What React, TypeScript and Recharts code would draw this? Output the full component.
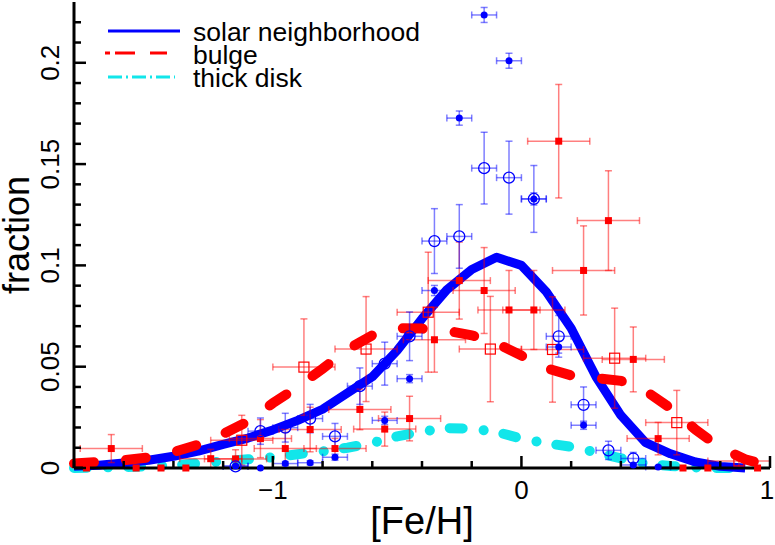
import React from 'react';
import { ComposedChart, Line, Scatter, XAxis, YAxis, ErrorBar, Legend } from 'recharts';

const FONT = '"Liberation Sans", Arial, Helvetica, sans-serif';

// model curves, sampled on a 0.1 dex grid
const fehGrid = [-1.8, -1.7, -1.6, -1.5, -1.4, -1.3, -1.2, -1.1, -1.0, -0.9, -0.8, -0.7, -0.6, -0.5, -0.4,
  -0.3, -0.2, -0.1, 0.0, 0.1, 0.2, 0.3, 0.4, 0.5, 0.6, 0.7, 0.8, 0.9, 1.0];
const solarModel = [0.0008, 0.0014, 0.0025, 0.0038, 0.0058, 0.0083, 0.0117, 0.0148, 0.0188, 0.0235, 0.029,
  0.037, 0.045, 0.058, 0.0737, 0.088, 0.098, 0.104, 0.1, 0.087, 0.069, 0.045, 0.026, 0.0125, 0.007, 0.003,
  0.0008, 0, null];
const bulgeModel = [0.0022, 0.003, 0.0038, 0.0052, 0.0078, 0.0116, 0.0168, 0.023, 0.032, 0.04, 0.049, 0.0585,
  0.0655, 0.069, 0.0688, 0.0678, 0.0655, 0.0615, 0.0555, 0.0493, 0.0457, 0.0444, 0.043, 0.038, 0.0295, 0.019,
  0.01, 0.0043, 0.001];
const thickDiskModel = [0, 0.0002, 0.0005, 0.0008, 0.0013, 0.0023, 0.0033, 0.0043, 0.0053, 0.0068, 0.0082,
  0.01, 0.0124, 0.0156, 0.018, 0.0197, 0.0194, 0.0178, 0.0145, 0.0122, 0.0105, 0.0077, 0.0048, 0.0022, 0.001,
  0.0003, 0, 0, null];

// observed bins: [Fe/H], fraction, [Fe/H] half width, fraction error
const solarFilled = [
  [-0.15, 0.2236, 0.05, 0.0037], [-0.05, 0.201, 0.05, 0.0037], [-0.25, 0.1727, 0.05, 0.0035],
  [0.05, 0.1328, 0.05, 0.003], [-0.35, 0.0876, 0.05, 0.0025], [-0.45, 0.0441, 0.05, 0.002],
  [-0.55, 0.0235, 0.05, 0.002], [-0.75, 0.0053, 0.05, 0.0015], [-0.85, 0.0026, 0.05, 0.001],
  [-0.95, 0.0022, 0.05, 0.001], [-1.15, 0.001, 0.05, 0.0005], [0.15, 0.0597, 0.05, 0.003],
  [0.25, 0.0211, 0.05, 0.002], [0.45, 0.0015, 0.05, 0.001], [0.55, 0.0005, 0.05, 0.0005],
];
const solarOpen = [
  [-0.15, 0.148, 0.05, 0.0177], [-0.05, 0.1433, 0.05, 0.018], [0.05, 0.1328, 0.05, 0.0165],
  [-0.35, 0.112, 0.05, 0.016], [-0.25, 0.1143, 0.05, 0.0157], [-0.45, 0.065, 0.05, 0.012],
  [-0.55, 0.0515, 0.05, 0.0106], [-0.65, 0.0404, 0.05, 0.009], [-0.75, 0.0156, 0.05, 0.0064],
  [-0.85, 0.0244, 0.05, 0.007], [-0.95, 0.0199, 0.05, 0.0071], [-1.05, 0.0182, 0.05, 0.0065],
  [-1.15, 0.0008, 0.05, 0.0008], [0.15, 0.065, 0.05, 0.0103], [0.25, 0.0312, 0.05, 0.0088],
  [0.35, 0.0087, 0.05, 0.0045], [0.45, 0.0047, 0.05, 0.003],
];
const bulgeFilled = [
  [0.15, 0.1613, 0.125, 0.028], [0.35, 0.1221, 0.125, 0.0246], [0.25, 0.0975, 0.125, 0.022],
  [-0.25, 0.0925, 0.125, 0.019], [-0.15, 0.0876, 0.125, 0.0212], [-0.05, 0.078, 0.125, 0.0195],
  [0.05, 0.078, 0.125, 0.0195], [-0.35, 0.0633, 0.125, 0.016], [0.45, 0.0536, 0.125, 0.016],
  [0.55, 0.0145, 0.125, 0.008], [-0.65, 0.0289, 0.125, 0.01], [-0.45, 0.0244, 0.125, 0.011],
  [-0.55, 0.0192, 0.125, 0.0084], [-0.85, 0.019, 0.125, 0.011], [-0.75, 0.0096, 0.125, 0.005],
  [-0.95, 0.0096, 0.125, 0.008], [-1.05, 0.0145, 0.125, 0.0094], [-1.15, 0.0045, 0.125, 0.0045],
  [-1.25, 0.0046, 0.125, 0.0046], [-1.65, 0.0096, 0.125, 0.0069],
];
const bulgeOpen = [
  [-0.375, 0.0769, 0.125, 0.0296], [-0.125, 0.0587, 0.125, 0.026], [-0.625, 0.0587, 0.125, 0.0259],
  [-0.875, 0.0498, 0.125, 0.0238], [0.125, 0.0585, 0.125, 0.026], [0.375, 0.0542, 0.125, 0.0247],
  [0.625, 0.0224, 0.125, 0.0159], [0.875, 0.0035, 0.125, 0.0035], [-1.125, 0.0137, 0.125, 0.0123],
];
// empty bins sitting on the axis
const solarEmptyBins = [-1.05];
const bulgeEmptyBins = [-1.75, -1.55, -1.45, -1.35, 0.65, 0.75, 0.95];

const xTicks = [-1.8, -1.6, -1.4, -1.2, -1.0, -0.8, -0.6, -0.4, -0.2, 0, 0.2, 0.4, 0.6, 0.8, 1.0];
const yTicks = [0, 0.01, 0.02, 0.03, 0.04, 0.05, 0.06, 0.07, 0.08, 0.09, 0.1, 0.11, 0.12, 0.13, 0.14, 0.15,
  0.16, 0.17, 0.18, 0.19, 0.2, 0.21, 0.22];

const curve = (vals: (number | null)[]) => fehGrid.map((x, i) => ({ x, y: vals[i] }));
const bins = (rows: number[][]) => rows.map(([x, y, ex, ey]) => ({ x, y, ex, ey }));
const empty = (xs: number[]) => xs.map((x) => ({ x, y: 0 }));

const isMajor = (v: number, step: number) => Math.abs(v / step - Math.round(v / step)) < 1e-6;
const fmtX = (v: number) => (v < 0 ? `\u2212${Math.abs(v)}` : `${v}`);
const fmtY = (v: number) => String(Number(v.toFixed(2)));

const TICK = { stroke: '#000', strokeWidth: 2.5 };
const AXIS = { stroke: '#000', strokeWidth: 3 };

const BottomTick = ({ x, y, payload }: any) => {
  const major = isMajor(payload.value, 1);
  // the last label sits on the frame edge, keep it inside the page
  const tx = payload.value >= 1 ? x - 3 : x;
  return (
    <g>
      <line x1={x} x2={x} y1={y} y2={y - (major ? 12 : 7)} {...TICK} />
      {major && (
        <text x={tx} y={y + 31} textAnchor="middle" fontSize={26} fontFamily={FONT} fill="#000">
          {fmtX(payload.value)}
        </text>
      )}
    </g>
  );
};

const TopTick = ({ x, y, payload }: any) => (
  <line x1={x} x2={x} y1={y} y2={y + (isMajor(payload.value, 1) ? 12 : 7)} {...TICK} />
);

const LeftTick = ({ x, y, payload }: any) => {
  const major = isMajor(payload.value, 0.05);
  const tx = x - 15;
  return (
    <g>
      <line x1={x} x2={x + (major ? 12 : 7)} y1={y} y2={y} {...TICK} />
      {major && (
        <text x={tx} y={y} transform={`rotate(-90 ${tx} ${y})`} textAnchor="middle" fontSize={26}
          fontFamily={FONT} fill="#000">
          {fmtY(payload.value)}
        </text>
      )}
    </g>
  );
};

const RightTick = ({ x, y, payload }: any) => (
  <line x1={x} x2={x - (isMajor(payload.value, 0.05) ? 12 : 7)} y1={y} y2={y} {...TICK} />
);

const FilledDot = ({ cx, cy }: any) => <circle cx={cx} cy={cy} r={3.5} fill="#0000ff" />;
const OpenDot = ({ cx, cy }: any) => (
  <circle cx={cx} cy={cy} r={5.5} fill="none" stroke="#0000ff" strokeWidth={1.3} />
);
const FilledSquare = ({ cx, cy }: any) => <rect x={cx - 3.5} y={cy - 3.5} width={7} height={7} fill="#ff0000" />;
const OpenSquare = ({ cx, cy }: any) => (
  <rect x={cx - 5} y={cy - 5} width={10} height={10} fill="none" stroke="#ff0000" strokeWidth={1.2} />
);

const BLUE_ERR = 'rgba(0,0,255,0.5)';
const RED_ERR = 'rgba(255,0,0,0.5)';
const CYAN = '#12e6ea';

const LegendBox = () => (
  <svg width={340} height={85} style={{ display: 'block' }}>
    <line x1={13} x2={85} y1={16} y2={16} stroke="#0000ff" strokeWidth={3} />
    <text x={98} y={26} fontSize={26.5} fontFamily={FONT} fill="#000">solar neighborhood</text>
    <line x1={10} x2={72} y1={38} y2={38} stroke="#ff0000" strokeWidth={3} strokeDasharray="5 5 20 15 20" />
    <text x={98} y={49} fontSize={26.5} fontFamily={FONT} fill="#000">bulge</text>
    <line x1={13} x2={80} y1={62} y2={62} stroke={CYAN} strokeWidth={3} strokeDasharray="14 4 2 4" />
    <text x={98} y={72} fontSize={26.5} fontFamily={FONT} fill="#000">thick disk</text>
  </svg>
);

export default function App() {
  return (
    <div style={{ position: 'absolute', left: 0, top: 0, background: '#fff' }}>
      <ComposedChart width={775} height={545} margin={{ top: 2, right: 5, bottom: 0, left: 0 }}>
        <XAxis
          dataKey="x" type="number" domain={[-1.8, 1]} ticks={xTicks} interval={0}
          tickSize={0} tickMargin={0} tick={<BottomTick />} axisLine={AXIS} height={77}
          label={(p: any) => {
            const vb = p.viewBox || { x: 74, y: 468, width: 696, height: 77 };
            return (
              <text x={vb.x + vb.width / 2} y={vb.y + 66} textAnchor="middle" fontSize={38}
                fontFamily={FONT} fill="#000">[Fe/H]</text>
            );
          }}
        />
        <XAxis
          xAxisId="top" orientation="top" dataKey="x" type="number" domain={[-1.8, 1]} allowDataOverflow
          ticks={xTicks} interval={0} tickSize={0} tickMargin={0} tick={<TopTick />} axisLine={AXIS} height={0}
        />
        <YAxis
          dataKey="y" type="number" domain={[0, 0.23]} ticks={yTicks} interval={0}
          tickSize={0} tickMargin={0} tick={<LeftTick />} axisLine={AXIS} width={74}
          label={(p: any) => {
            const vb = p.viewBox || { x: 0, y: 2, width: 74, height: 466 };
            const lx = vb.x + 29;
            const ly = vb.y + vb.height / 2;
            return (
              <text x={lx} y={ly} transform={`rotate(-90 ${lx} ${ly})`} textAnchor="middle" fontSize={36}
                fontFamily={FONT} fill="#000">fraction</text>
            );
          }}
        />
        <YAxis
          yAxisId="right" orientation="right" dataKey="y" type="number" domain={[0, 0.23]} allowDataOverflow
          ticks={yTicks} interval={0} tickSize={0} tickMargin={0} tick={<RightTick />} axisLine={AXIS} width={0}
        />
        <Legend
          layout="horizontal" verticalAlign="middle" align="center"
          wrapperStyle={{ left: 95, top: 15, width: 340, height: 85 }}
          content={() => <LegendBox />}
        />

        <Line data={curve(thickDiskModel)} dataKey="y" type="linear" stroke={CYAN} strokeWidth={10}
          strokeDasharray="13 21 0.1 20" strokeLinecap="round" dot={false} isAnimationActive={false} />
        <Line data={curve(solarModel)} dataKey="y" type="linear" stroke="#0000ff" strokeWidth={9}
          strokeLinejoin="round" dot={false} isAnimationActive={false} />
        <Line data={curve(bulgeModel)} dataKey="y" type="linear" stroke="#ff0000" strokeWidth={10}
          strokeDasharray="20 32" strokeLinecap="round" dot={false} isAnimationActive={false} />

        <Scatter data={bins(bulgeOpen)} dataKey="y" shape={OpenSquare} isAnimationActive={false}>
          <ErrorBar dataKey="ex" direction="x" width={3.5} stroke={RED_ERR} strokeWidth={1.5} isAnimationActive={false} />
          <ErrorBar dataKey="ey" direction="y" width={3.5} stroke={RED_ERR} strokeWidth={1.5} isAnimationActive={false} />
        </Scatter>
        <Scatter data={bins(bulgeFilled)} dataKey="y" shape={FilledSquare} isAnimationActive={false}>
          <ErrorBar dataKey="ex" direction="x" width={3.5} stroke={RED_ERR} strokeWidth={1.5} isAnimationActive={false} />
          <ErrorBar dataKey="ey" direction="y" width={3.5} stroke={RED_ERR} strokeWidth={1.5} isAnimationActive={false} />
        </Scatter>
        <Scatter data={empty(bulgeEmptyBins)} dataKey="y" shape={FilledSquare} isAnimationActive={false} />
        <Scatter data={bins(solarOpen)} dataKey="y" shape={OpenDot} isAnimationActive={false}>
          <ErrorBar dataKey="ex" direction="x" width={3.5} stroke={BLUE_ERR} strokeWidth={1.5} isAnimationActive={false} />
          <ErrorBar dataKey="ey" direction="y" width={3.5} stroke={BLUE_ERR} strokeWidth={1.5} isAnimationActive={false} />
        </Scatter>
        <Scatter data={bins(solarFilled)} dataKey="y" shape={FilledDot} isAnimationActive={false}>
          <ErrorBar dataKey="ex" direction="x" width={3.5} stroke={BLUE_ERR} strokeWidth={1.5} isAnimationActive={false} />
          <ErrorBar dataKey="ey" direction="y" width={3.5} stroke={BLUE_ERR} strokeWidth={1.5} isAnimationActive={false} />
        </Scatter>
        <Scatter data={empty(solarEmptyBins)} dataKey="y" shape={FilledDot} isAnimationActive={false} />
      </ComposedChart>
    </div>
  );
}
